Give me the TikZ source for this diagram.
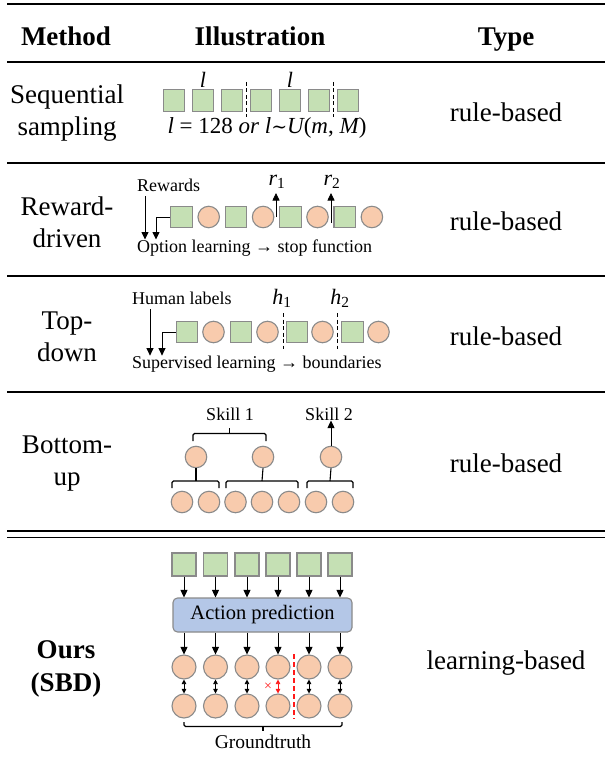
\documentclass[tikz,border=0pt]{standalone}
\usepackage{fontspec}
\setmainfont{Liberation Serif}
\newfontfamily\symbfamily{DejaVu Serif}
\usetikzlibrary{arrows.meta,calc}

\definecolor{gfill}{HTML}{C5E0B4}
\definecolor{ofill}{HTML}{F8CBAD}
\definecolor{bfill}{HTML}{B4C7E7}
\definecolor{edgegray}{HTML}{8A8A8A}
\definecolor{redline}{HTML}{FF1A1A}

\newcommand\cellfont{\fontsize{27}{32}\selectfont}
\newcommand\labfont{\fontsize{18}{21}\selectfont}
\newcommand\symfont{\fontsize{22}{26}\selectfont}
\newcommand\vsub[1]{\textsubscript{\upshape #1}}

\tikzset{
  sq/.style={draw=edgegray, fill=gfill, line width=1.1pt, minimum width=21.5pt, minimum height=21.5pt, inner sep=0pt},
  bigsq/.style={sq, minimum width=24pt, minimum height=23pt},
  ci/.style={circle, draw=edgegray, fill=ofill, line width=1.1pt, minimum size=21.5pt, inner sep=0pt},
  bigci/.style={ci, minimum size=24pt},
  arr/.style={-{Triangle[width=7pt,length=7.5pt]}, line width=0.8pt},
  darr/.style={{Triangle[width=4.5pt,length=4.5pt]}-{Triangle[width=4.5pt,length=4.5pt]}, line width=0.8pt},
  bnd/.style={dashed, dash pattern=on 4pt off 2.5pt, line width=1pt},
  brace/.style={line width=1.1pt, rounded corners=1.5pt},
  cell/.style={font=\cellfont, align=center, inner sep=0pt},
  hd/.style={font=\cellfont\bfseries, inner sep=0pt, anchor=base},
  lab/.style={font=\labfont, inner sep=0pt},
  sym/.style={font=\symfont\itshape, inner sep=0pt},
}

\begin{document}
\begin{tikzpicture}[x=1pt,y=-1pt]
\useasboundingbox (0,0) rectangle (605,762);

% ---------- table rules ----------
\draw[line width=1.8pt] (7,4) -- (605,4);
\draw[line width=1.3pt] (7,62) -- (605,62);
\draw[line width=1.1pt] (7,163) -- (605,163);
\draw[line width=1.1pt] (7,276) -- (605,276);
\draw[line width=1.1pt] (7,392) -- (605,392);
\draw[line width=1.6pt] (7,531) -- (605,531);
\draw[line width=1.6pt] (7,537.5) -- (605,537.5);

% ---------- header ----------
\node[hd] (hmethod) at (66,46) {Method};
\node[hd] (hillu) at (260,46) {Illustration};
\node[hd] (htype) at (506,46) {Type};

% ---------- method column ----------
\node[cell] (m1) at (67,113) {Sequential\\sampling};
\node[cell] (m2) at (67,222) {Reward-\\driven};
\node[cell] (m3) at (67,337) {Top-\\down};
\node[cell] (m4) at (67,464) {Bottom-\\up};
\node[cell, font=\cellfont\bfseries] (m5) at (66,669) {Ours\\[1pt](SBD)};

% ---------- type column ----------
\node[cell, anchor=base] (t1) at (506,122) {rule-based};
\node[cell, anchor=base] (t2) at (506,230) {rule-based};
\node[cell, anchor=base] (t3) at (506,345) {rule-based};
\node[cell, anchor=base] (t4) at (506,472) {rule-based};
\node[cell, anchor=base] (t5) at (506,669) {learning-based};

% ---------- sequential sampling ----------
\foreach \i in {0,...,6} {
  \node[sq] (a\i) at ({174+29*\i},100.5) {};
}
\draw[bnd] ($(a2.east)!0.5!(a3.west)+(0,-18.5)$) coordinate (sa1) -- ++(0,35);
\draw[bnd] ($(a5.east)!0.5!(a6.west)+(0,-18.5)$) coordinate (sa2) -- ++(0,35);
\node[sym] (ll1) at (203,80) {l};
\node[sym] (ll2) at (290,80) {l};
\node[sym, font=\fontsize{23}{27}\selectfont\itshape] (lform) at (267,128) {l {\upshape =} {\upshape 128} or l{\upshape\symbfamily\fontsize{19}{22}\selectfont ∼}U{\upshape (}m{\upshape ,} M{\upshape )}};

% ---------- reward-driven ----------
\foreach \i in {0,...,3} {
  \node[sq] (rs\i) at ({181.5+54.4*\i},217) {};
  \node[ci] (rc\i) at ({208.7+54.4*\i},217) {};
}
\node[lab, anchor=west] (rwlab) at (137,185) {Rewards};
\node[lab, anchor=west] (optlab) at (137,248) {Option learning → stop function};
\coordinate (rwa) at (145,196);
\draw[arr] (rwa) -- (rwa |- optlab.north);
\draw[line width=0.8pt] (rs0.west) -| (156,226) coordinate (rwb);
\draw[arr] (rwb) -- (rwb |- optlab.north);
\node[sym] (r1) at (277,182) {r\vsub{1}};
\node[sym] (r2) at (332,182) {r\vsub{2}};
\coordinate (r1s) at (276,217);
\coordinate (r1t) at (276,193);
\coordinate (r2s) at (331,223);
\coordinate (r2t) at (331,193);
\draw[arr] (r1s) -- (r1t);
\draw[arr] (r2s) -- (r2t);

% ---------- top-down ----------
\node[sq] (ts0) at (187,332) {};
\node[ci] (tc0) at (213.5,332) {};
\node[sq] (ts1) at (241,332) {};
\node[ci] (tc1) at (267.5,332) {};
\node[sq] (ts2) at (297,332) {};
\node[ci] (tc2) at (322.5,332) {};
\node[sq] (ts3) at (352.5,332) {};
\node[ci] (tc3) at (378.5,332) {};
\draw[bnd] (283,313) coordinate (tb1) -- (283,349);
\draw[bnd] (337,313) coordinate (tb2) -- (337,349);
\node[lab, anchor=west] (hlab) at (132,298) {Human labels};
\node[sym] (h1) at (282,298) {h\vsub{1}};
\node[sym] (h2) at (340,298) {h\vsub{2}};
\node[lab, anchor=west] (suplab) at (132,364) {Supervised learning → boundaries};
\coordinate (hla) at (150,309);
\draw[arr] (hla) -- (hla |- suplab.north);
\draw[line width=0.8pt] (ts0.west) -| (162,340) coordinate (hlb);
\draw[arr] (hlb) -- (hlb |- suplab.north);

% ---------- bottom-up ----------
\foreach \x [count=\k] in {182,209,235.5,262,289,316,343} {
  \node[ci] (bl\k) at (\x,502) {};
}
\node[ci] (bm1) at (196,457) {};
\node[ci] (bm2) at (263,457) {};
\node[ci] (bm3) at (331,457) {};
% braces grouping the lower circles
\draw[brace] (172,488) -- (172,481) -- (219,481) -- (219,488);
\draw[brace] (196,481) -- (bm1.south);
\draw[brace] (226,488) -- (226,481) -- (298,481) -- (298,488);
\draw[brace] (262,481) -- (bm2.south);
\draw[brace] (307,488) -- (307,481) -- (353,481) -- (353,488);
\draw[brace] (330,481) -- (bm3.south);
% brace above the first skill
\draw[brace] (193,441) -- (193,433.5) -- (266,433.5) -- (266,441);
\draw[brace] (229.5,433.5) -- (229.5,428);
\node[lab] (sk1) at (230,414) {Skill 1};
\node[lab] (sk2) at (329,414) {Skill 2};
\draw[arr] (bm3.north) -- (bm3.north |- sk2.south);

% ---------- ours (SBD) ----------
\foreach \x [count=\k] in {184,215.5,247,278,309,340} {
  \node[bigsq] (os\k) at (\x,564.5) {};
  \node[bigci] (ot\k) at (\x,667) {};
  \node[bigci] (ob\k) at (\x,706) {};
}
\node[draw=edgegray, fill=bfill, line width=1.1pt, rounded corners=4.5pt,
      minimum width=179pt, minimum height=34pt, inner sep=0pt,
      font=\fontsize{20.5}{24}\selectfont] (ap) at (262.5,615) {Action prediction};
\foreach \k in {1,...,6} {
  \draw[arr] (os\k.south) -- (os\k.south |- ap.north);
  \draw[arr] (ot\k.north |- ap.south) -- (ot\k.north);
}
\foreach \k in {1,2,3,5,6} {
  \draw[darr] (ot\k.south) -- (ob\k.north);
}
\draw[darr, redline] (ot4.south) -- (ob4.north);
\node[inner sep=0pt, text=redline, font=\fontsize{14}{16}\selectfont] (xmark) at (268,687) {×};
\draw[bnd, redline, line width=1.3pt, dash pattern=on 5pt off 3pt] (294,654) coordinate (rd1) -- (294,719);
% groundtruth brace
\draw[brace] (184,722) -- (184,726.5) -- (342,726.5) -- (342,722);
\draw[brace] (263,726.5) -- (263,730.5);
\node[lab, font=\fontsize{19.5}{22}\selectfont] (gt) at (263,742) {Groundtruth};

\end{tikzpicture}
\end{document}
